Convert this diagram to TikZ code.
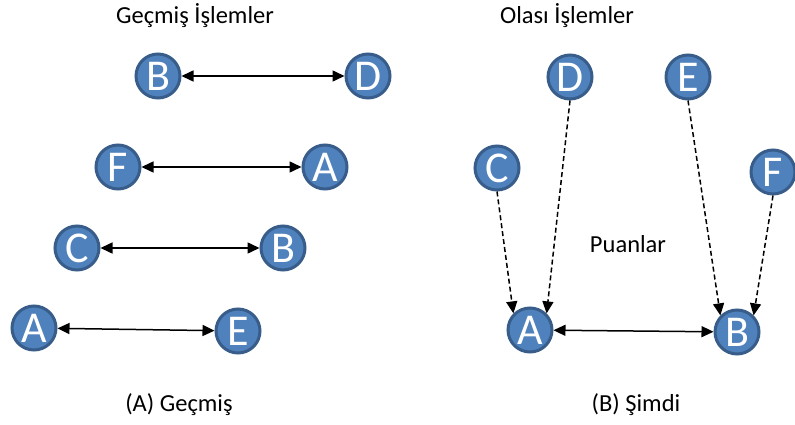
\documentclass[tikz,border=0pt]{standalone}
\usepackage{fontspec}
\setmainfont{Carlito}
\usetikzlibrary{arrows.meta}
\definecolor{nodeblue}{HTML}{4F81BD}
\definecolor{nodeedge}{HTML}{385D8A}
\tikzset{
  party/.style={
    circle, draw=nodeedge, fill=nodeblue,
    line width=3pt, minimum size=44pt, inner sep=0pt,
    text=white, font=\fontsize{44}{44}\selectfont,
  },
  caption/.style={font=\fontsize{24.5}{28}\selectfont, text=black},
  trade/.style={{Triangle[length=12pt,width=11pt]}-{Triangle[length=12pt,width=11pt]}, line width=1.5pt},
  score/.style={-{Triangle[length=12pt,width=11pt]}, line width=1.5pt, dash pattern=on 5pt off 3pt},
}
\begin{document}
\begin{tikzpicture}[x=1pt, y=-1pt]
  \useasboundingbox (0,0) rectangle (795,425);

  % (A) past transactions
  \node[caption] (pasttitle) at (195,16) {Geçmiş İşlemler};
  \node[party] (pB1) at (158,76) {B};
  \node[party] (pD1) at (368,76) {D};
  \node[party] (pF1) at (118,167) {F};
  \node[party] (pA1) at (325,167) {A};
  \node[party] (pC1) at (77,248) {C};
  \node[party] (pB2) at (283,248) {B};
  \node[party] (pA2) at (34,328) {A};
  \node[party] (pE1) at (238,331) {E};
  \node[caption] (pastcap) at (179,405) {(A) Geçmiş};

  \draw[trade] (pB1) -- (pD1);
  \draw[trade] (pF1) -- (pA1);
  \draw[trade] (pC1) -- (pB2);
  \draw[trade] (pA2) -- (pE1);

  % (B) current candidates
  \node[caption] (nowtitle) at (567,16) {Olası İşlemler};
  \node[party] (nD) at (570,77) {D};
  \node[party] (nE) at (688,77) {E};
  \node[party] (nC) at (497,168) {C};
  \node[party] (nF) at (773,172) {F};
  \node[party] (nA) at (530,330) {A};
  \node[party] (nB) at (737,332) {B};
  \node[caption] (scores) at (628,244) {Puanlar};
  \node[caption] (nowcap) at (636,405) {(B) Şimdi};

  \draw[trade] (nA) -- (nB);
  \draw[score] (nC.south) -- (nA.north west);
  \draw[score] (nD.south) -- (nA.north east);
  \draw[score] (nE.south) -- (nB.north west);
  \draw[score] (nF.south) -- (nB.north east);

\end{tikzpicture}
\end{document}
